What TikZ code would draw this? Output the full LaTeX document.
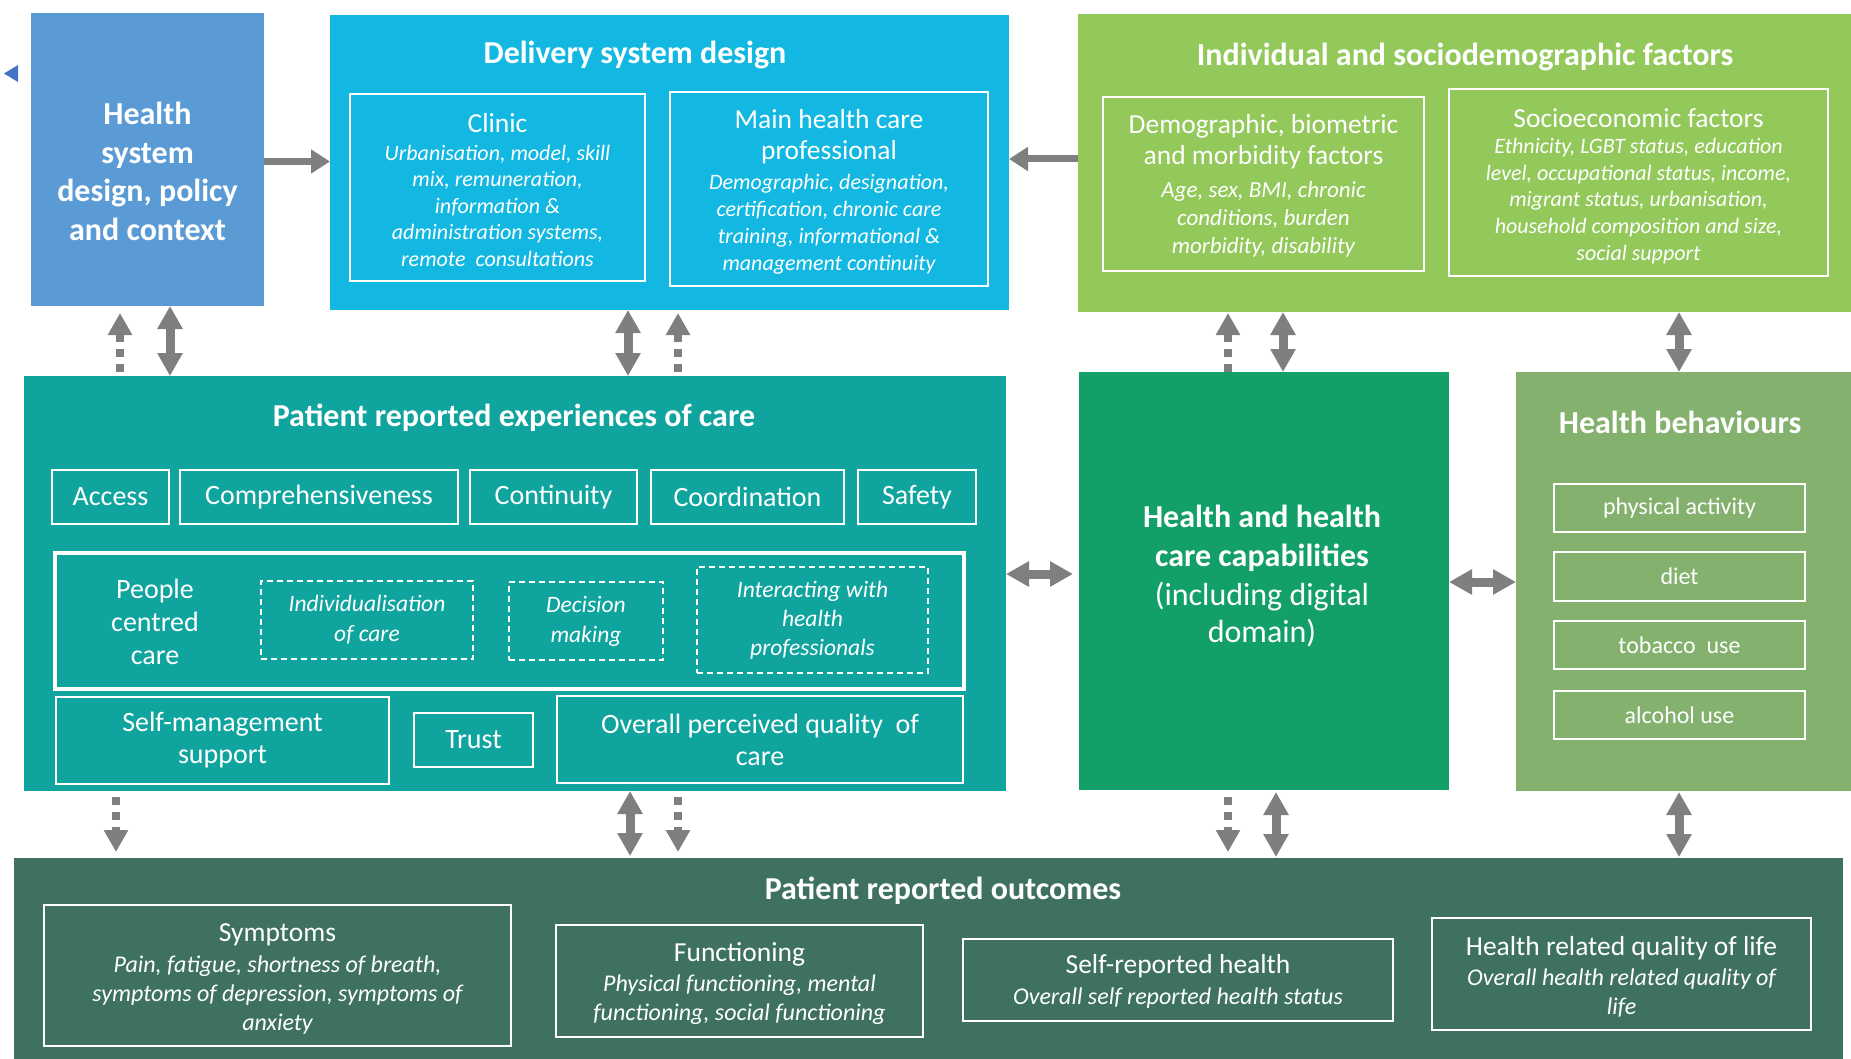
\documentclass[tikz,border=0pt]{standalone}
\usepackage{fontspec}
\setmainfont{Carlito}
\usetikzlibrary{arrows.meta}
\definecolor{hsblue}{HTML}{5B9BD5}
\definecolor{dsblue}{HTML}{13B8E2}
\definecolor{isgreen}{HTML}{93C85A}
\definecolor{preteal}{HTML}{10A49F}
\definecolor{capgreen}{HTML}{12A068}
\definecolor{hbgreen}{HTML}{84B16E}
\definecolor{progreen}{HTML}{3F725E}
\definecolor{arrgray}{HTML}{7F7F7F}
\definecolor{tripblue}{HTML}{4472C4}
\begin{document}
\begin{tikzpicture}[x=1pt,y=-1pt,
  panel/.style={inner sep=0pt, outer sep=0pt, anchor=north west, draw=none},
  wbox/.style={draw=white, line width=1.8pt, inner sep=0pt, outer sep=0pt, anchor=north west, text=white, align=center, font=\fontsize{28}{32}\selectfont},
  dbox/.style={wbox, line width=1.5pt, dash pattern=on 6pt off 4pt, font=\itshape\fontsize{23.5}{30}\selectfont},
  hbox/.style={wbox, font=\fontsize{24}{29}\selectfont},
  ttl/.style={text=white, inner sep=0pt, align=center, font=\bfseries\fontsize{32}{38}\selectfont},
  sub/.style={text=white, inner sep=0pt, align=center, font=\fontsize{27.5}{31}\selectfont},
  bod/.style={text=white, inner sep=0pt, align=center, font=\itshape\fontsize{22}{26.5}\selectfont},
  obod/.style={text=white, inner sep=0pt, align=center, font=\itshape\fontsize{24}{29}\selectfont},
  dbl/.style={draw=arrgray, line width=9pt, arrows={Triangle[width=24pt,length=23pt]-Triangle[width=24pt,length=23pt]}},
  harrow/.style={draw=arrgray, line width=7pt, arrows={-Triangle[width=23pt,length=19pt]}},
  dotarrow/.style={draw=arrgray, line width=8pt, dash pattern=on 8pt off 7pt, arrows={-Triangle[width=23pt,length=22pt]}}
]
\useasboundingbox (0,0) rectangle (1851,1059);
\fill[white] (0,0) rectangle (1851,1059);

% small marker
\fill[tripblue] (4,73.5) -- (18,65) -- (18,82) -- cycle;

% ---------- Row 1 ----------
\node[panel, fill=hsblue, minimum width=233pt, minimum height=293pt] (hs) at (31,13) {};
\node[text=white, inner sep=0pt, align=center, font=\bfseries\fontsize{32}{38.5}\selectfont] (hsT) at (147.5,171.5) {Health\\system\\design, policy\\and context};

\node[panel, fill=dsblue, minimum width=679pt, minimum height=295pt] (ds) at (330,15) {};
\node[ttl] (dsT) at (635,55) {Delivery system design};
\node[wbox, minimum width=295pt, minimum height=187pt] (clinic) at (350,94) {};
\node[sub] (clinicT) at (497.5,123) {Clinic};
\node[bod] (clinicB) at (497.5,205.5) {Urbanisation, model, skill\\mix, remuneration,\\information \&\\administration systems,\\remote~~consultations};
\node[wbox, minimum width=318pt, minimum height=194pt] (mhcp) at (670,92) {};
\node[sub] (mhcpT) at (829,137) {Main health care\\professional};
\node[bod, font=\itshape\fontsize{22}{27}\selectfont] (mhcpB) at (829,224) {Demographic, designation,\\certification, chronic care\\training, informational \&\\management continuity};

\node[panel, fill=isgreen, minimum width=773pt, minimum height=298pt] (isf) at (1078,14) {};
\node[ttl] (isfT) at (1465,57) {Individual and sociodemographic factors};
\node[wbox, minimum width=321pt, minimum height=174pt] (demo) at (1103,97) {};
\node[sub] (demoT) at (1263.5,142) {Demographic, biometric\\and morbidity factors};
\node[bod, font=\itshape\fontsize{23}{28}\selectfont] (demoB) at (1263.5,219.5) {Age, sex, BMI, chronic\\conditions, burden\\morbidity, disability};
\node[wbox, minimum width=379pt, minimum height=187pt] (socio) at (1449,89) {};
\node[sub] (socioT) at (1638.5,118) {Socioeconomic factors};
\node[bod, font=\itshape\fontsize{22}{26.75}\selectfont] (socioB) at (1638.5,201) {Ethnicity, LGBT status, education\\level, occupational status, income,\\migrant status, urbanisation,\\household composition and size,\\social support};

% ---------- Row 2 ----------
\node[panel, fill=preteal, minimum width=982pt, minimum height=415pt] (pre) at (24,376) {};
\node[ttl] (preT) at (514,418) {Patient reported experiences of care};
\node[wbox, minimum width=117pt, minimum height=54pt] (access) at (52,470) {Access};
\node[wbox, minimum width=278pt, minimum height=54pt] (compr) at (180,470) {Comprehensiveness};
\node[wbox, minimum width=167pt, minimum height=54pt] (cont) at (470,470) {Continuity};
\node[wbox, minimum width=193pt, minimum height=54pt] (coord) at (651,470) {Coordination};
\node[wbox, minimum width=118pt, minimum height=54pt] (safety) at (858,470) {Safety};
\node[wbox, line width=4pt, minimum width=909pt, minimum height=136pt] (pcc) at (55,553) {};
\node[text=white, inner sep=0pt, align=center, font=\fontsize{28}{33}\selectfont] (pccT) at (155,622) {People\\centred\\care};
\node[dbox, minimum width=212pt, minimum height=78pt] (indiv) at (261,581) {Individualisation\\of care};
\node[dbox, minimum width=154pt, minimum height=78pt] (decis) at (509,582) {Decision\\making};
\node[dbox, font=\itshape\fontsize{23.5}{29}\selectfont, minimum width=231pt, minimum height=106pt] (inter) at (697,567) {Interacting with\\health\\professionals};
\node[wbox, minimum width=333pt, minimum height=87pt] (selfm) at (56,697) {Self-management\\support};
\node[wbox, minimum width=119pt, minimum height=54pt] (trust) at (414,713) {Trust};
\node[wbox, minimum width=406pt, minimum height=87pt] (overall) at (557,696) {Overall perceived quality~~of\\care};

\node[panel, fill=capgreen, minimum width=370pt, minimum height=418pt] (cap) at (1079,372) {};
\node[text=white, inner sep=0pt, align=center, font=\bfseries\fontsize{32}{38.5}\selectfont] (capT) at (1262,538.5) {Health and health\\care capabilities};
\node[text=white, inner sep=0pt, align=center, font=\fontsize{32}{37}\selectfont] (capB) at (1262,614.5) {(including digital\\domain)};

\node[panel, fill=hbgreen, minimum width=335pt, minimum height=419pt] (hb) at (1516,372) {};
\node[ttl] (hbT) at (1680,422) {Health behaviours};
\node[hbox, minimum width=251pt, minimum height=48pt] (phys) at (1554,484) {physical activity};
\node[hbox, minimum width=251pt, minimum height=49pt] (diet) at (1554,552) {diet};
\node[hbox, minimum width=251pt, minimum height=48pt] (tob) at (1554,621) {tobacco~~use};
\node[hbox, minimum width=251pt, minimum height=48pt] (alc) at (1554,691) {alcohol use};

% ---------- Row 3 ----------
\node[panel, fill=progreen, minimum width=1829pt, minimum height=201pt] (pro) at (14,858) {};
\node[ttl] (proT) at (943,891) {Patient reported outcomes};
\node[wbox, minimum width=467pt, minimum height=141pt] (symp) at (44,905) {};
\node[sub] (sympT) at (277.5,935) {Symptoms};
\node[obod] (sympB) at (277.5,995) {Pain, fatigue, shortness of breath,\\symptoms of depression, symptoms of\\anxiety};
\node[wbox, minimum width=367pt, minimum height=112pt] (func) at (556,925) {};
\node[sub] (funcT) at (739.5,954) {Functioning};
\node[obod] (funcB) at (739.5,999.5) {Physical functioning, mental\\functioning, social functioning};
\node[wbox, minimum width=430pt, minimum height=82pt] (srh) at (963,939) {};
\node[sub] (srhT) at (1178,966) {Self-reported health};
\node[obod] (srhB) at (1178,998.5) {Overall self reported health status};
\node[wbox, minimum width=379pt, minimum height=112pt] (hrq) at (1432,918) {};
\node[sub] (hrqT) at (1621.5,948) {Health related quality of life};
\node[obod] (hrqB) at (1621.5,993.5) {Overall health related quality of\\life};

% ---------- Connectors ----------
\draw[harrow] (hs.east |- 0,161.5) -- (ds.west |- 0,161.5);
\draw[harrow] (isf.west |- 0,159) -- (ds.east |- 0,159);

% row1 - row2
\draw[dotarrow, shorten <=4pt, shorten >=7pt] (120,0 |- pre.north) -- (120,0 |- hs.south);
\draw[dbl] (170,0 |- hs.south) -- (170,0 |- pre.north);
\draw[dbl] (628,0 |- ds.south) -- (628,0 |- pre.north);
\draw[dotarrow, shorten <=4pt, shorten >=3pt] (678,0 |- pre.north) -- (678,0 |- ds.south);
\draw[dotarrow, shorten <=0pt, shorten >=1pt] (1228,0 |- cap.north) -- (1228,0 |- isf.south);
\draw[dbl] (1283,0 |- isf.south) -- (1283,0 |- cap.north);
\draw[dbl] (1679,0 |- isf.south) -- (1679,0 |- hb.north);

% row2 horizontal
\draw[dbl, shorten >=6pt] (pre.east |- 0,574) -- (cap.west |- 0,574);
\draw[dbl] (cap.east |- 0,582) -- (hb.west |- 0,582);

% row2 - row3
\draw[dotarrow, shorten <=6pt, shorten >=6pt] (116,0 |- pre.south) -- (116,0 |- pro.north);
\draw[dbl, shorten >=2pt] (630,0 |- pre.south) -- (630,0 |- pro.north);
\draw[dotarrow, shorten <=6pt, shorten >=6pt] (678,0 |- pre.south) -- (678,0 |- pro.north);
\draw[dotarrow, shorten <=7pt, shorten >=6pt] (1228,0 |- cap.south) -- (1228,0 |- pro.north);
\draw[dbl, shorten <=2pt, shorten >=1pt] (1276,0 |- cap.south) -- (1276,0 |- pro.north);
\draw[dbl, shorten <=1pt, shorten >=1pt] (1679,0 |- hb.south) -- (1679,0 |- pro.north);
\end{tikzpicture}
\end{document}
